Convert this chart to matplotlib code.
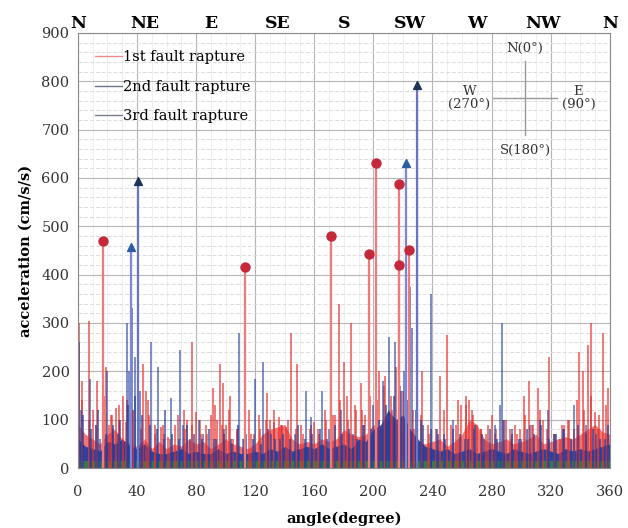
"""
Peak ground acceleration versus fault-rupture direction angle.
"""

import matplotlib

matplotlib.use("Agg")
import matplotlib.pyplot as plt
import numpy as np
from matplotlib.lines import Line2D
from matplotlib.ticker import MultipleLocator

plt.rcParams["font.family"] = ["DejaVu Serif"]

# dense low-level envelope, one value every 5 degrees (0..360)
base_angle = np.arange(0, 361, 5)
blue_base = [60, 45, 40, 35, 55, 50, 60, 45, 40, 50, 35, 30, 30, 35, 40, 30,
             35, 30, 30, 40, 30, 35, 30, 30, 35, 30, 40, 35, 45, 35, 40, 45,
             40, 50, 40, 45, 50, 40, 60, 55, 80, 90, 120, 100, 110, 80, 60, 45,
             40, 35, 40, 30, 35, 40, 30, 35, 40, 35, 30, 40, 35, 30, 35, 40,
             35, 30, 40, 35, 40, 35, 40, 45, 50]
red_base = [90, 70, 60, 50, 70, 80, 60, 50, 45, 60, 40, 55, 40, 50, 45, 60,
            50, 55, 40, 50, 60, 50, 45, 40, 50, 70, 80, 85, 90, 60, 50, 55,
            50, 60, 55, 60, 80, 70, 65, 70, 90, 80, 100, 90, 80, 70, 55, 50,
            55, 60, 45, 55, 70, 100, 90, 60, 50, 55, 60, 50, 55, 60, 70, 50,
            55, 60, 65, 60, 70, 80, 90, 75, 70]
green_base = [14] * len(base_angle)

# mid-level texture, one value every 5 degrees offset by 2.5 (2.5..357.5)
mid_angle = np.arange(2.5, 360, 5)
red_mid = [140, 100, 90, 150, 110, 130, 95, 120, 80, 140,
           70, 90, 60, 110, 80, 90, 100, 70, 130, 90,
           120, 80, 60, 70, 110, 100, 120, 90, 100, 80,
           70, 90, 80, 120, 110, 140, 100, 130, 120, 150,
           140, 170, 120, 100, 90, 80, 110, 70, 80, 120,
           90, 140, 130, 110, 80, 90, 70, 100, 80, 70,
           110, 90, 120, 80, 70, 90, 100, 140, 120, 150,
           110, 130]
blue_mid = [110, 80, 120, 70, 90, 100, 130, 150, 110, 90,
            80, 120, 70, 60, 90, 70, 60, 80, 60, 70,
            60, 90, 70, 60, 50, 80, 60, 70, 60, 90,
            60, 70, 80, 60, 90, 70, 80, 60, 90, 80,
            100, 130, 150, 160, 140, 120, 90, 80, 70, 60,
            80, 70, 60, 90, 70, 80, 60, 100, 70, 60,
            80, 70, 90, 60, 70, 80, 60, 90, 70, 80,
            60, 90]

# 1st fault rupture spikes
red_angle = [1, 3, 7.5, 10, 13, 19, 21, 23, 26, 28, 30.7, 33, 37, 41, 44, 46,
             48, 52, 56, 58, 61, 66, 72, 74, 77, 80, 83, 87, 90, 91.6, 94, 96,
             98, 100, 103, 105, 108, 116, 119, 123, 128, 130, 133, 136, 138,
             141, 144, 148, 151, 157, 160, 163, 168, 174, 177, 180, 182, 184.7,
             188, 191.7, 194, 204, 208, 212, 215, 220, 227, 233, 237, 245, 250,
             256, 259.6, 263, 265, 267, 270, 273, 276, 280, 283, 290, 293, 296,
             299, 302, 305, 308, 311.5, 315, 319, 323, 326, 329, 332, 336, 339,
             342, 345, 347.5, 350, 352, 355.6, 358.6]
red_acc = [300, 180, 305, 120, 180, 210, 90, 110, 125, 100, 150, 140, 120, 175,
           215, 160, 110, 90, 85, 70, 65, 90, 120, 100, 260, 115, 70, 90, 110,
           165, 100, 215, 175, 90, 150, 60, 80, 120, 70, 80, 155, 100, 95, 105,
           90, 85, 280, 215, 90, 80, 95, 70, 100, 110, 340, 220, 150, 300, 120,
           175, 110, 200, 190, 150, 210, 160, 120, 200, 90, 190, 275, 90, 130,
           150, 140, 120, 90, 80, 70, 110, 80, 100, 60, 90, 80, 150, 180, 90,
           165, 100, 230, 70, 60, 90, 100, 80, 240, 200, 255, 300, 115, 80,
           280, 165]

# 2nd fault rupture spikes
blue_angle = [0.5, 2, 8, 12, 15, 19.5, 24, 27, 33, 34.5, 36.5, 39, 42, 49.8,
              54, 58, 63, 69, 71, 76, 82, 85, 92, 99, 104, 109, 112, 120, 125,
              131, 137, 147, 154.7, 158, 165, 170, 178, 186, 193, 200, 206.6,
              210.6, 214.5, 218, 221, 224.5, 226, 232, 239, 243, 248, 254, 262,
              268, 275, 282, 285.6, 287, 294, 300, 306, 313, 318, 322, 328,
              335.6, 344, 351, 357]
blue_acc = [260, 120, 185, 90, 60, 200, 80, 70, 300, 200, 330, 230, 160, 260,
            210, 60, 145, 245, 90, 60, 100, 70, 60, 80, 50, 280, 60, 185, 220,
            70, 60, 70, 160, 105, 160, 80, 120, 70, 90, 130, 180, 270, 260, 170,
            200, 375, 290, 100, 360, 80, 70, 100, 60, 80, 60, 90, 130, 300, 80,
            60, 90, 100, 120, 70, 80, 130, 90, 70, 60]

# marked peaks
red_peak_angle = [17, 113.4, 171, 197, 201.6, 217.4, 217.6, 224]
red_peak_acc = [470, 415, 480, 443, 630, 420, 587, 451]
tri_angle = [35.7, 222]
tri_acc = [458, 630]
navy_angle = [40.8, 229.5]
navy_acc = [593, 793]

top_ticks = [0, 45, 90, 135, 180, 225, 270, 315, 360]
top_labels = ["N", "NE", "E", "SE", "S", "SW", "W", "NW", "N"]

RED = "#e5302f"
BLUE = "#253f9c"
GREEN = "#2f7a4e"

fig = plt.figure(figsize=(6.28, 5.28), dpi=100)
ax = fig.add_axes([0.124, 0.1136, 0.847, 0.824])

# dense bands
ax.fill_between(base_angle, 0, red_base, color=RED, alpha=0.65, lw=0)
ax.vlines(red_angle, 0, red_acc, color=RED, lw=1.2, alpha=0.75)
ax.vlines(mid_angle, 0, red_mid, color=RED, lw=1.2, alpha=0.75)
ax.fill_between(base_angle, 0, blue_base, color=BLUE, alpha=0.95, lw=0)
ax.vlines(blue_angle, 0, blue_acc, color=BLUE, lw=1.1, alpha=0.75)
ax.vlines(mid_angle + 1.2, 0, blue_mid, color=BLUE, lw=1.2, alpha=0.8)
ax.fill_between(base_angle, 0, green_base, color=GREEN, lw=0)

# peak stems and markers
ax.vlines(red_peak_angle, 0, red_peak_acc, color="#f07a7a", lw=1.6)
ax.vlines(tri_angle, 0, tri_acc, color="#7d86d6", lw=1.6)
ax.vlines(navy_angle, 0, navy_acc, color="#6a74c4", lw=1.6)
ax.scatter(red_peak_angle, red_peak_acc, s=42, color="#c4283a", zorder=5)
ax.scatter(tri_angle, tri_acc, s=32, marker="^", color="#2c5da0", zorder=5)
ax.scatter(navy_angle, navy_acc, s=32, marker="^", color="#1e3458", zorder=5)

ax.set_xlim(0, 360)
ax.set_ylim(0, 900)
ax.xaxis.set_major_locator(MultipleLocator(40))
ax.yaxis.set_major_locator(MultipleLocator(100))
ax.xaxis.set_minor_locator(MultipleLocator(10))
ax.yaxis.set_minor_locator(MultipleLocator(20))
ax.grid(which="major", color="#b5b5b5", lw=0.8)
ax.grid(which="minor", axis="y", color="#dcdcdc", lw=0.7, ls=(0, (4, 2)))
ax.grid(which="minor", axis="x", color="#ececec", lw=0.6)
ax.set_axisbelow(True)
ax.tick_params(which="both", length=0, labelsize=10.5, colors="#333333", pad=6)
ax.tick_params(axis="x", pad=12)
for sp in ax.spines.values():
    sp.set_color("#8a8a8a")

ax.set_xlabel("angle(degree)", fontsize=10.5, fontweight="bold", labelpad=9)
ax.set_ylabel("acceleration (cm/s/s)", fontsize=10.5, fontweight="bold", labelpad=6)

top = ax.secondary_xaxis("top")
top.set_xticks(top_ticks)
top.set_xticklabels(top_labels, fontsize=12.5, fontweight="bold")
top.tick_params(length=0, pad=1)
top.spines["top"].set_visible(False)

handles = [
    Line2D([], [], color="#f08a8a", lw=1),
    Line2D([], [], color="#6b7388", lw=1),
    Line2D([], [], color="#7a7f8a", lw=1),
]
ax.legend(handles, ["1st fault rapture", "2nd fault rapture", "3rd fault rapture"],
          loc="upper left", frameon=False, fontsize=10.5, handlelength=1.8,
          handletextpad=0.1, labelspacing=1.05, borderaxespad=0.8,
          bbox_to_anchor=(0.0, 1.0))

# compass rose
cx, cy = 0.841, 0.85
ax.plot([cx - 0.06, cx + 0.06], [cy, cy], transform=ax.transAxes, color="#999999", lw=1)
ax.plot([cx, cx], [cy - 0.085, cy + 0.085], transform=ax.transAxes, color="#999999", lw=1)
ctext = dict(transform=ax.transAxes, fontsize=9.5, color="#333333", ha="center", va="center")
ax.text(cx, cy + 0.115, "N(0°)", **ctext)
ax.text(cx, cy - 0.12, "S(180°)", **ctext)
ax.text(cx - 0.105, cy, "W\n(270°)", linespacing=1.0, **ctext)
ax.text(cx + 0.10, cy, "E\n(90°)", linespacing=1.0, **ctext)

fig.savefig("out.png", dpi=100)
